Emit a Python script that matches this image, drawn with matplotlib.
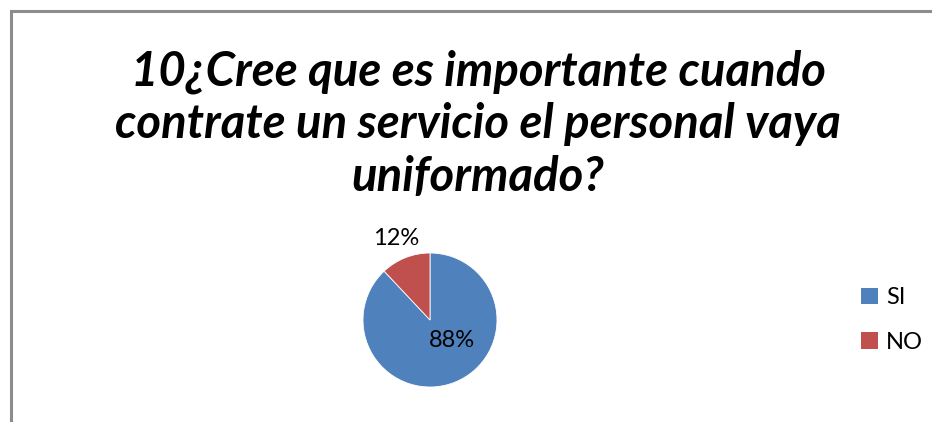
import matplotlib.pyplot as plt
from matplotlib.lines import Line2D
from matplotlib.patches import Patch

# Survey answers, question 10
labels = ["SI", "NO"]
shares = [88, 12]
colors = ["#4F81BD", "#C0504D"]
title = "10¿Cree que es importante cuando\ncontrate un servicio el personal vaya\nuniformado?"

plt.rcParams['font.family'] = ['Lato', 'DejaVu Sans']

fig = plt.figure(figsize=(9.32, 4.22), dpi=100)

# chart frame (top and left edges only, the rest is cut off)
fig.add_artist(Line2D([11 / 932, 11 / 932], [0, 1 - 11 / 422], color="#8c8c8c", lw=2.2))
fig.add_artist(Line2D([11 / 932, 1], [1 - 11 / 422, 1 - 11 / 422], color="#8c8c8c", lw=2.2))

fig.text(478 / 932, 1 - 124 / 422, title, ha="center", va="center",
         fontsize=34, fontweight="bold", fontstyle="italic", linespacing=1.24)

# pie centred at (430, 320), radius ~67 px
r = 67
ax = fig.add_axes([(430 - r) / 932, (422 - 320 - r) / 422, 2 * r / 932, 2 * r / 422])
wedges, _ = ax.pie(shares, colors=colors, startangle=90, counterclock=False,
                   radius=1.0, wedgeprops=dict(linewidth=0.6, edgecolor="white"))
ax.set_aspect("equal")
ax.set_xlim(-1, 1)
ax.set_ylim(-1, 1)

# value labels
ax.text(0.33, -0.30, f"{shares[0]}%", ha="center", va="center", fontsize=17)
ax.text(-0.50, 1.22, f"{shares[1]}%", ha="center", va="center", fontsize=17)

handles = [Patch(facecolor=c, edgecolor="none") for c in colors]
fig.legend(handles, labels, loc="center left", bbox_to_anchor=(861 / 932, 1 - 320 / 422),
           frameon=False, fontsize=17, handlelength=0.7, handleheight=0.7,
           handletextpad=0.35, labelspacing=1.0, borderpad=0, borderaxespad=0)

fig.savefig("out.png", dpi=100, facecolor="white")
